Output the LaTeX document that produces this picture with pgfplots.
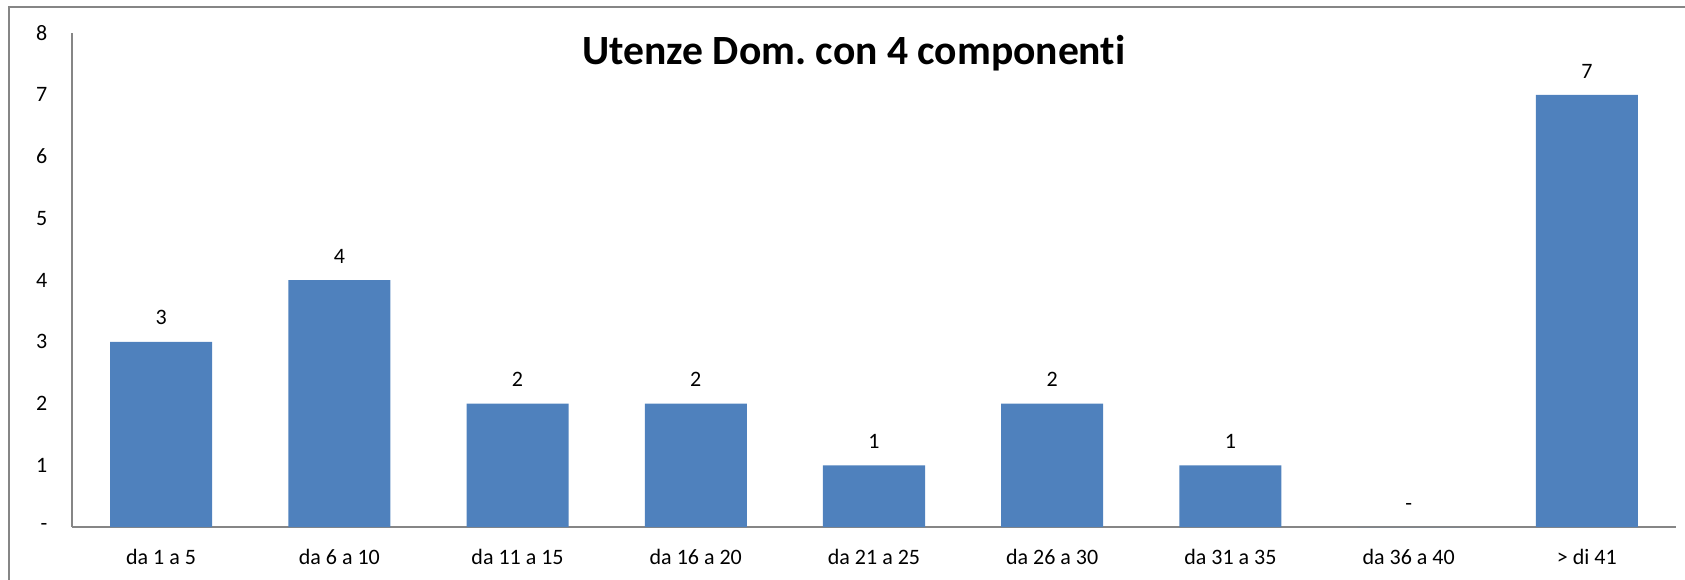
\documentclass[border=0pt]{standalone}
\usepackage{pgfplots}
\pgfplotsset{compat=1.18}
\usepackage{fontspec}
\setmainfont{Carlito}[Ligatures=NoCommon]
\frenchspacing
\definecolor{barblue}{HTML}{4F81BD}
\definecolor{axgray}{HTML}{868686}
\begin{document}
\begin{tikzpicture}
\useasboundingbox (-36pt,-26pt) rectangle (806.5pt,263.5pt);
\draw[axgray,line width=0.8pt] (-31.5pt,-30pt) -- (-31.5pt,260pt) -- (810pt,260pt);
\begin{axis}[
  at={(0,0)}, anchor=south west,
  scale only axis,
  width=802pt, height=247pt,
  xmin=-0.5, xmax=8.5, ymin=0, ymax=8,
  axis lines*=left,
  axis line style={axgray,line width=0.75pt,-},
  major tick length=0pt,
  xtick={0,...,8},
  xticklabels={da 1 a 5,da 6 a 10,da 11 a 15,da 16 a 20,da 21 a 25,da 26 a 30,da 31 a 35,da 36 a 40,> di 41},
  ytick={0,...,8},
  yticklabels={{-\hspace{6pt}},1,2,3,4,5,6,7,8},
  /pgf/number format/assume math mode=true,
  tick label style={font=\fontsize{11}{13}\selectfont},
  yticklabel style={anchor=east,xshift=-8.8pt},
  xticklabel style={anchor=north,yshift=-7.5pt},
  ybar, bar width=51pt,
  point meta=explicit symbolic,
  nodes near coords,
  nodes near coords style={font=\fontsize{11}{13}\selectfont,yshift=4.8pt},
]
\addplot[fill=barblue,draw=none] coordinates {
 (0,3)[3] (1,4)[4] (2,2)[2] (3,2)[2] (4,1)[1] (5,2)[2] (6,1)[1] (7,0)[-] (8,7)[7]
};
\end{axis}
\node[anchor=base,font=\fontsize{20.8}{24}\selectfont\bfseries] at (391pt,231pt) {Utenze Dom. con 4 componenti};
\end{tikzpicture}
\end{document}
